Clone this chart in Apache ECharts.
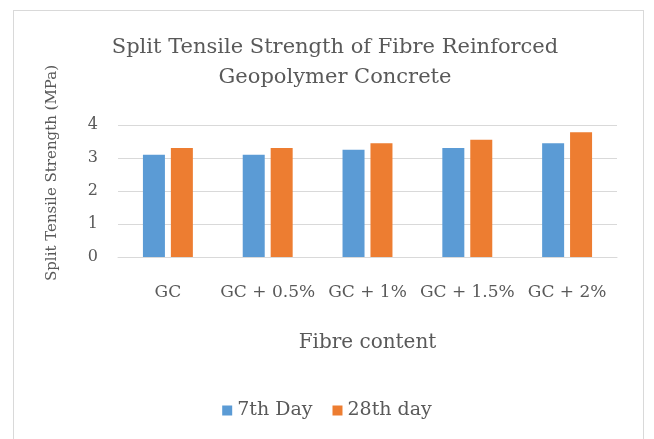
<!DOCTYPE html>
<html>
<head>
<meta charset="utf-8">
<script src="https://cdn.jsdelivr.net/npm/echarts@6/dist/echarts.min.js"></script>
<style>
  html, body { margin: 0; padding: 0; background: #fff; }
  #frame {
    position: absolute; left: 13px; top: 10px; width: 631px; height: 460px;
    border: 1px solid #d9d9d9; box-sizing: border-box;
  }
  #chart { position: absolute; left: 0; top: 0; width: 654px; height: 439px; }
</style>
</head>
<body>
<div id="frame"></div>
<div id="chart"></div>
<script>
// categories and values
const categories = ['GC', 'GC + 0.5%', 'GC + 1%', 'GC + 1.5%', 'GC + 2%']
const day7 = [3.1, 3.1, 3.25, 3.3, 3.45]
const day28 = [3.3, 3.3, 3.45, 3.55, 3.78]

const font = '"DejaVu Serif", "Liberation Serif", serif'
const textColor = '#595959'

const chart = echarts.init(document.getElementById('chart'))
chart.setOption({
  animation: false,
  textStyle: { fontFamily: font },
  title: {
    text: 'Split Tensile Strength of Fibre Reinforced\nGeopolymer Concrete',
    left: 330,
    textAlign: 'center',
    top: 28,
    textStyle: { fontFamily: font, fontSize: 21, fontWeight: 'normal', color: textColor, lineHeight: 30 }
  },
  legend: {
    top: 396,
    left: 'center',
    itemWidth: 10,
    itemHeight: 10,
    itemGap: 20,
    icon: 'rect',
    textStyle: { fontFamily: font, fontSize: 19, color: textColor }
  },
  grid: { left: 118, right: 37, top: 125, bottom: 182 },
  xAxis: {
    type: 'category',
    data: categories,
    name: 'Fibre content',
    nameLocation: 'middle',
    nameGap: 76,
    nameTextStyle: { fontFamily: font, fontSize: 20, color: textColor },
    axisLine: { lineStyle: { color: '#d9d9d9' } },
    axisTick: { show: false },
    axisLabel: { interval: 0, hideOverlap: false, fontFamily: font, fontSize: 17, color: textColor, margin: 27 }
  },
  yAxis: {
    type: 'value',
    min: 0,
    max: 4,
    interval: 1,
    name: 'Split Tensile Strength (MPa)',
    nameLocation: 'middle',
    nameGap: 58,
    nameTextStyle: { fontFamily: font, fontSize: 15, color: textColor, padding: [0, 0, 0, 36] },
    axisLine: { show: false },
    axisTick: { show: false },
    axisLabel: { fontFamily: font, fontSize: 16, color: textColor, margin: 20 },
    splitLine: { lineStyle: { color: '#d9d9d9' } }
  },
  series: [
    {
      name: '7th Day',
      type: 'bar',
      data: day7,
      barWidth: 22,
      barGap: '27%',
      itemStyle: { color: '#5B9BD5' }
    },
    {
      name: '28th day',
      type: 'bar',
      data: day28,
      barWidth: 22,
      itemStyle: { color: '#ED7D31' }
    }
  ]
})
</script>
</body>
</html>
